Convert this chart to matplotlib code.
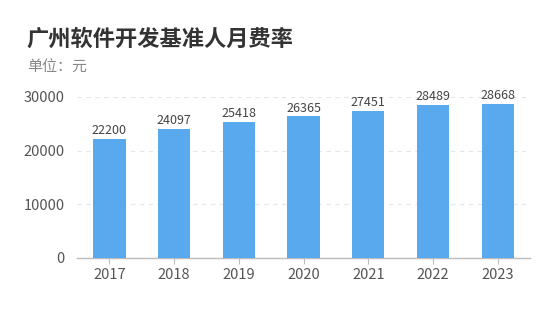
import matplotlib
matplotlib.use("Agg")
import matplotlib.pyplot as plt

plt.rcParams["font.family"] = ["Noto Sans CJK SC", "DejaVu Sans"]

years = ["2017", "2018", "2019", "2020", "2021", "2022", "2023"]
rates = [22200, 24097, 25418, 26365, 27451, 28489, 28668]
yticks = [0, 10000, 20000, 30000]

bar_color = "#58a9ee"
text_grey = "#555555"

fig = plt.figure(figsize=(5.58, 3.2), dpi=100)
fig.patch.set_facecolor("white")
ax = fig.add_axes([0.138, 0.194, 0.812, 0.503])

x = range(len(years))
ax.bar(x, rates, width=0.5, color=bar_color, zorder=3)
for xi, v in zip(x, rates):
    ax.text(xi, v + 300, str(v), ha="center", va="bottom",
            fontsize=9, color="#444444", zorder=4)

ax.set_xlim(-0.5, len(years) - 0.5)
ax.set_ylim(0, 30000)
ax.set_xticks(list(x))
ax.set_xticklabels(years)
ax.set_yticks(yticks)
ax.set_yticklabels([str(t) for t in yticks])

for sp in ["top", "right", "left"]:
    ax.spines[sp].set_visible(False)
ax.spines["bottom"].set_color("#bbbbbb")
ax.spines["bottom"].set_linewidth(1)

ax.tick_params(axis="x", colors=text_grey, labelsize=10.5, length=4,
               color="#bbbbbb", pad=3)
ax.tick_params(axis="y", colors=text_grey, labelsize=10.5, length=0, pad=9)

for t in yticks[1:]:
    ax.axhline(t, color="#e6e6e6", linewidth=0.8, linestyle=(0, (4, 4)), zorder=1)

fig.text(0.048, 0.878, "广州软件开发基准人月费率", fontsize=16, fontweight="bold",
         color="#333333", va="center")
fig.text(0.048, 0.787, "单位：元", fontsize=10.8, color="#888888", va="center")

fig.savefig("out.png", dpi=100, facecolor="white")
